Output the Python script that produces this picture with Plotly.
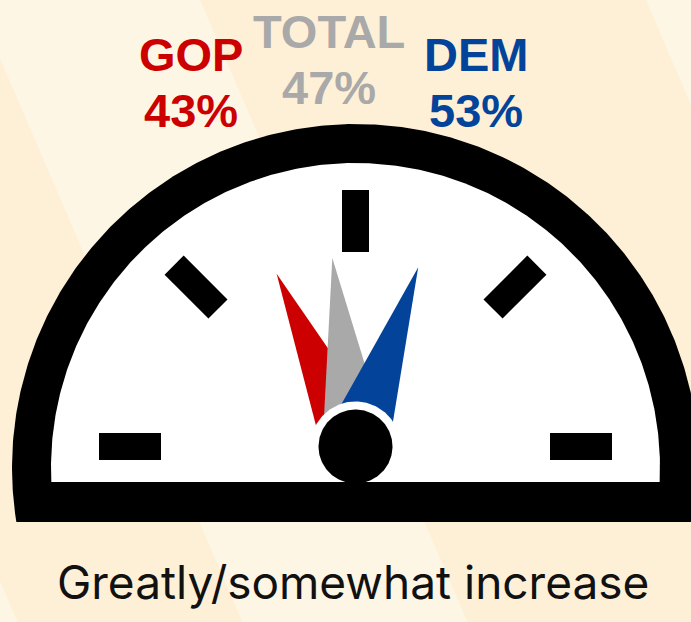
import numpy as np
import plotly.graph_objects as go

# ---- data ----
groups = ["GOP", "TOTAL", "DEM"]
values = [43, 47, 53]
group_colors = ["#CC0000", "#A9A9A9", "#03449A"]
caption = "Greatly/somewhat increase"
# gauge scale (value at left end, value at right end of the dial)
gauge_min = 28.05
gauge_max = 69.15

W, H = 691, 622
CX, CY = 355.5, 446.5          # dial hub
BODY_CY = 467.5                # centre of the dial body arcs
R_OUT, R_IN = 343.5, 304.5
Y_OUT_CUT, Y_IN_CUT = 522.0, 482.0

LIGHT = "#FEF6E4"
DARK = "#FEF0D6"

fig = go.Figure()


def add_poly(xs, ys, color):
    fig.add_trace(go.Scatter(x=list(xs), y=list(ys), mode="lines", fill="toself",
                             fillcolor=color, line=dict(width=0, color=color),
                             hoverinfo="skip", showlegend=False))


def segment(ocx, ocy, r, ycut, n=400):
    t0 = np.arcsin((ocy - ycut) / r)
    t = np.linspace(t0, np.pi - t0, n)
    xs = ocx + r * np.cos(t)
    ys = ocy - r * np.sin(t)
    return np.append(xs, xs[0]), np.append(ys, ys[0])


def circle(ocx, ocy, r, n=200):
    t = np.linspace(0, 2 * np.pi, n)
    return ocx + r * np.cos(t), ocy - r * np.sin(t)


# background stripes (lines x - 0.43*y = c)
k = 0.43
add_poly([-25, 200, 200 + k * H, -25 + k * H, -25], [0, 0, H, H, 0], LIGHT)
add_poly([0, -250 + k * H, 0, 0], [250 / k, H, H, 250 / k], LIGHT)
add_poly([646, W + 5, W + 5, 646], [0, 0, (W + 5 - 646) / k, 0], LIGHT)

# dial body
xs, ys = segment(CX, BODY_CY, R_OUT, Y_OUT_CUT)
add_poly(xs, ys, "#000000")
xs, ys = segment(CX, BODY_CY, R_IN, Y_IN_CUT)
add_poly(xs, ys, "#FFFFFF")

# tick marks at 0, 45, 90, 135, 180 degrees
for ang in [180, 135, 90, 45, 0]:
    a = np.radians(ang)
    u = np.array([np.cos(a), -np.sin(a)])
    v = np.array([np.sin(a), np.cos(a)])
    c = np.array([CX, CY]) + 225.5 * u
    pts = [c + 31 * u + 13.5 * v, c + 31 * u - 13.5 * v,
           c - 31 * u - 13.5 * v, c - 31 * u + 13.5 * v]
    pts.append(pts[0])
    add_poly([p[0] for p in pts], [p[1] for p in pts], "#000000")

# needles driven by the values
for g, val, col in zip(groups, values, group_colors):
    frac = (val - gauge_min) / (gauge_max - gauge_min)
    a = np.radians(180 - 180 * frac)
    u = np.array([np.cos(a), -np.sin(a)])
    v = np.array([np.sin(a), np.cos(a)])
    c = np.array([CX, CY])
    tip = c + 190 * u
    b1 = c + 33.5 * v
    b2 = c - 33.5 * v
    fig.add_trace(go.Scatter(x=[tip[0], b1[0], b2[0], tip[0]],
                             y=[tip[1], b1[1], b2[1], tip[1]],
                             mode="lines", fill="toself", fillcolor=col,
                             line=dict(width=0, color=col), name=g,
                             hovertext=f"{g}: {val}%", hoverinfo="text",
                             showlegend=False))

# hub
xs, ys = circle(CX, CY, 45)
add_poly(xs, ys, "#FFFFFF")
xs, ys = circle(CX, CY, 37)
add_poly(xs, ys, "#000000")
add_poly([300, 411, 411, 300, 300], [Y_IN_CUT, Y_IN_CUT, Y_OUT_CUT, Y_OUT_CUT, Y_IN_CUT], "#000000")

# labels
label_x = [191, 329, 475.5]
label_y = [54, 31, 54]
for g, val, col, lx, ly in zip(groups, values, group_colors, label_x, label_y):
    fig.add_annotation(x=lx, y=ly, text=g, showarrow=False, xanchor="center", yanchor="middle",
                       font=dict(family="Liberation Sans", size=47, color=col, weight="bold"))
    fig.add_annotation(x=lx, y=ly + 56, text=f"{val}%", showarrow=False, xanchor="center",
                       yanchor="middle",
                       font=dict(family="Liberation Sans", size=47, color=col, weight="bold"))

fig.add_annotation(x=353, y=582, text=caption, showarrow=False, xanchor="center", yanchor="middle",
                   font=dict(family="Inter", size=46, color="#111111"))

fig.update_layout(
    width=W, height=H, margin=dict(l=0, r=0, t=0, b=0),
    paper_bgcolor=DARK, plot_bgcolor=DARK,
    xaxis=dict(range=[0, W], visible=False, fixedrange=True),
    yaxis=dict(range=[H, 0], visible=False, fixedrange=True),
    showlegend=False,
)

fig.write_html("out.html", config={"displayModeBar": False},
               post_script="document.body.style.margin='0px';")
